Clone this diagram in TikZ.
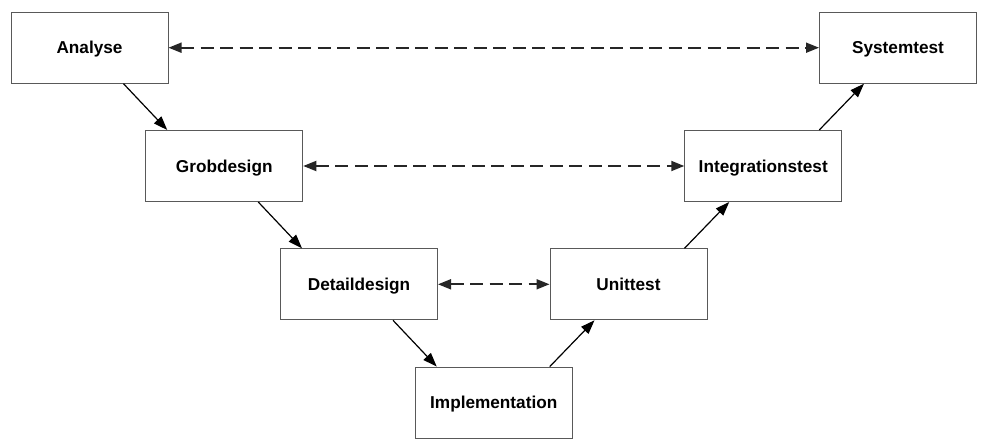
\documentclass[tikz,border=0pt]{standalone}
\usepackage{fontspec}
\setmainfont{Liberation Sans}
\usetikzlibrary{positioning, arrows.meta}

\begin{document}
\begin{tikzpicture}[x=1pt, y=1pt,
        box/.style={draw=black!65, line width=1pt, minimum width=157pt, minimum height=71pt,
            inner sep=0pt, text depth=0pt, font=\fontsize{17.2}{20}\selectfont\bfseries},
        flow/.style={-{Triangle[length=14pt, width=10pt]}, line width=1.2pt},
        pair/.style={{Triangle[length=13pt, width=10pt]}-{Triangle[length=13pt, width=10pt]},
            line width=1.8pt, dash pattern=on 13pt off 6.5pt, black!85},
        node distance=118.3pt and 134.75pt, on grid]
    \useasboundingbox (0,0) rectangle (988,-446);
    \node[box] (an) at (89.5,-47.7) {Analyse};
    \node[box, below right = of an] (gd) {Grobdesign};
    \node[box, below right = of gd] (dd) {Detaildesign};
    \node[box, below right = of dd] (im) {Implementation};
    \node[box, above right = of im] (ut) {Unittest};
    \node[box, above right = of ut] (it) {Integrationstest};
    \node[box, above right = of it] (st) {Systemtest};
    % down the left side
    \draw[flow] ([xshift=34pt]an.south) -- ([xshift=-57pt]gd.north);
    \draw[flow] ([xshift=34pt]gd.south) -- ([xshift=-57pt]dd.north);
    \draw[flow] ([xshift=34pt]dd.south) -- ([xshift=-57pt]im.north);
    % up the right side
    \draw[flow] ([xshift=56pt]im.north) -- ([xshift=-34pt]ut.south);
    \draw[flow] ([xshift=56pt]ut.north) -- ([xshift=-34pt]it.south);
    \draw[flow] ([xshift=56pt]it.north) -- ([xshift=-34pt]st.south);
    % test levels
    \draw[pair] (an) -- (st);
    \draw[pair] (gd) -- (it);
    \draw[pair] (dd) -- (ut);
\end{tikzpicture}
\end{document}
